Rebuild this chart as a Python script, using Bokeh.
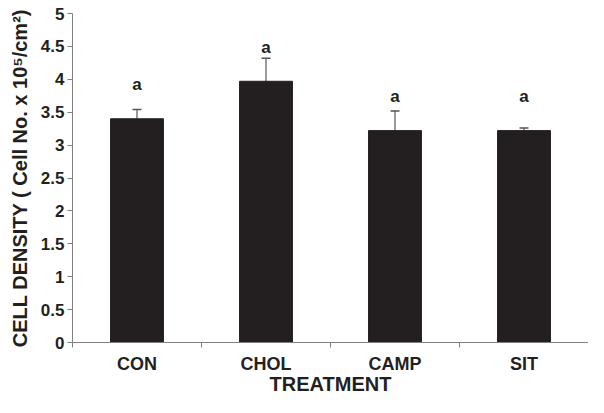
from bokeh.plotting import figure
from bokeh.models import ColumnDataSource, Whisker, TeeHead, FixedTicker, Range1d
from bokeh.core.properties import value
from bokeh.embed import file_html
from bokeh.resources import INLINE

categories = ["CON", "CHOL", "CAMP", "SIT"]
means = [3.40, 3.97, 3.22, 3.22]
errors = [0.14, 0.35, 0.30, 0.04]
letters = ["a", "a", "a", "a"]
y_ticks = [0, 0.5, 1, 1.5, 2, 2.5, 3, 3.5, 4, 4.5, 5]
x_title = "TREATMENT"
y_title = "CELL DENSITY ( Cell No. x 10\u2075/cm\u00b2)"

xs = [i + 0.5 for i in range(len(categories))]
src = ColumnDataSource(dict(
    x=xs, top=means,
    upper=[m + e for m, e in zip(means, errors)],
    label_y=[m + 0.37 for m in means],
    letter=letters,
))

FONT = "Liberation Sans"
DARK = "#231f20"
AXIS = "#808080"

p = figure(width=588, height=397, output_backend="svg", toolbar_location=None,
           x_range=Range1d(0, len(categories)), y_range=Range1d(0, 5),
           min_border_left=72, min_border_right=0, min_border_top=13, min_border_bottom=0)
p.outline_line_color = None
p.grid.visible = False

p.vbar(x="x", top="top", bottom=0, width=0.41, source=src, fill_color=DARK, line_color=DARK)

w = Whisker(base="x", lower="top", upper="upper", source=src,
            line_color="#555555", line_width=1.2,
            upper_head=TeeHead(size=9, line_color="#555555", line_width=1.5),
            lower_head=None)
p.add_layout(w)

p.text(x="x", y="label_y", text="letter", source=src, text_align="center",
       text_baseline="bottom", text_font=value(FONT), text_font_style="bold",
       text_font_size="17px", text_color=DARK)

# x axis
p.xaxis.ticker = FixedTicker(ticks=xs, minor_ticks=list(range(0, len(categories) + 1)))
p.xaxis.major_label_overrides = {x: c for x, c in zip(xs, categories)}
p.xaxis.major_tick_line_color = None
p.xaxis.major_tick_in = 0
p.xaxis.major_tick_out = 0
p.xaxis.minor_tick_line_color = AXIS
p.xaxis.minor_tick_in = 0
p.xaxis.minor_tick_out = 5
p.xaxis.axis_line_color = AXIS
p.xaxis.major_label_text_font = FONT
p.xaxis.major_label_text_font_style = "bold"
p.xaxis.major_label_text_font_size = "18px"
p.xaxis.major_label_text_line_height = 0.8
p.xaxis.major_label_text_color = DARK
p.xaxis.major_label_standoff = 6
p.xaxis.axis_label = x_title
p.xaxis.axis_label_text_font = FONT
p.xaxis.axis_label_text_font_style = "bold"
p.xaxis.axis_label_text_font_size = "20px"
p.xaxis.axis_label_text_line_height = 0.8
p.xaxis.axis_label_text_color = DARK
p.xaxis.axis_label_standoff = -4

# y axis
p.yaxis.ticker = FixedTicker(ticks=y_ticks)
p.yaxis.minor_tick_line_color = None
p.yaxis.major_tick_in = 0
p.yaxis.major_tick_out = 5
p.yaxis.major_tick_line_color = AXIS
p.yaxis.axis_line_color = AXIS
p.yaxis.major_label_text_font = FONT
p.yaxis.major_label_text_font_style = "bold"
p.yaxis.major_label_text_font_size = "17px"
p.yaxis.major_label_text_color = DARK
p.yaxis.major_label_standoff = 3
p.yaxis.axis_label = y_title
p.yaxis.axis_label_text_font = FONT
p.yaxis.axis_label_text_font_style = "bold"
p.yaxis.axis_label_text_font_size = "20px"
p.yaxis.axis_label_text_color = DARK
p.yaxis.axis_label_standoff = 7

open("out.html", "w").write(file_html(p, INLINE))
